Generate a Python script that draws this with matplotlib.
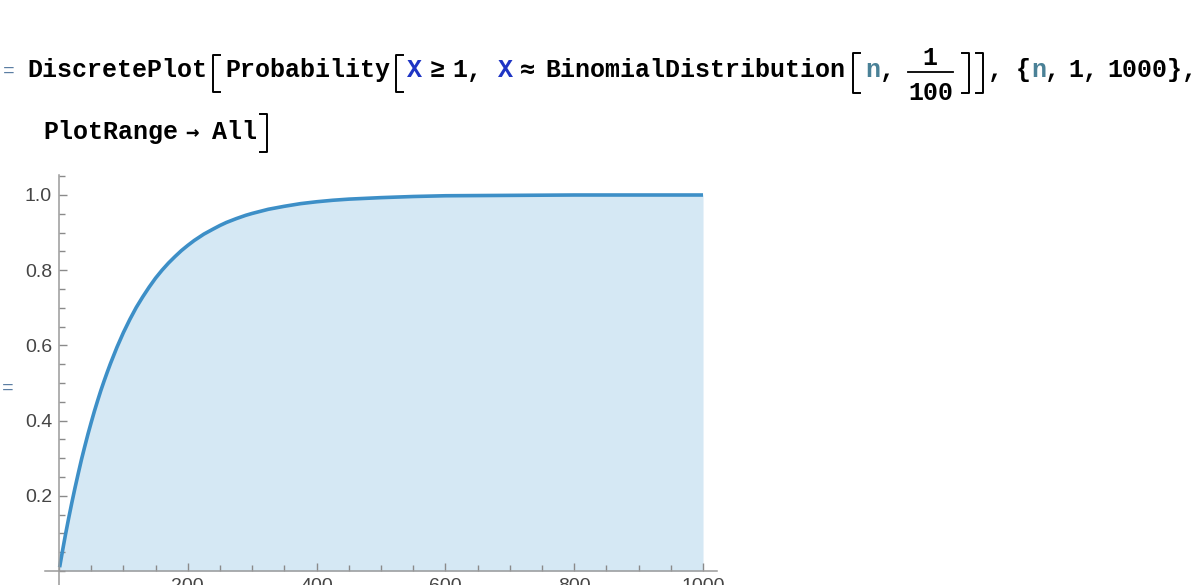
import numpy as np
import matplotlib.pyplot as plt
from matplotlib.lines import Line2D
from matplotlib.ticker import MultipleLocator

# values: P(X >= 1) for X ~ Binomial(n, 1/100)
n_vals = [1, 5, 10, 15, 20, 25, 30, 35, 40, 45, 50, 55, 60, 65, 70, 75, 80, 90,
          100, 110, 120, 130, 140, 150, 160, 170, 180, 190, 200, 210, 225, 240,
          250, 260, 275, 290, 300, 325, 350, 375, 400, 425, 450, 500, 550, 600,
          650, 700, 800, 900, 1000]
p_vals = [0.01, 0.049, 0.096, 0.140, 0.182, 0.222, 0.26, 0.297, 0.331, 0.364,
          0.395, 0.425, 0.453, 0.480, 0.505, 0.529, 0.552, 0.595,
          0.634, 0.669, 0.701, 0.729, 0.755, 0.779, 0.800, 0.819, 0.836, 0.852,
          0.866, 0.879, 0.896, 0.910, 0.919, 0.927, 0.937, 0.946, 0.951, 0.962,
          0.970, 0.977, 0.982, 0.986, 0.989, 0.993, 0.996, 0.998,
          0.9985, 0.999, 1.0, 1.0, 1.0]
x_major = [200, 400, 600, 800, 1000]
y_major = [0.2, 0.4, 0.6, 0.8, 1.0]

W, H = 1199, 585
fig = plt.figure(figsize=(W / 100, H / 100), dpi=100)

def fx(px):
    return px / W

def fy(py):
    return 1 - py / H

MONO = ['Liberation Mono', 'DejaVu Sans Mono']
BLUE = '#1f35c4'
TEAL = '#4a8197'
EQ = '#5b7ea3'
FS = 18

def code(px, py, s, color='black', size=FS, ha='left', family=MONO):
    fig.text(fx(px), fy(py), s, family=family, weight='bold', size=size,
             color=color, ha=ha, va='baseline')

def bracket(x0, x1, y0, y1, left=True):
    xs = x0 if left else x1
    xe = x1 if left else x0
    fig.add_artist(Line2D([fx(xe), fx(xs), fx(xs), fx(xe)],
                          [fy(y0), fy(y0), fy(y1), fy(y1)],
                          color='black', lw=1.4))

# input line 1
fig.text(fx(3), fy(76), '=', color=EQ, size=14, family=MONO, va='baseline')
code(27, 77, 'DiscretePlot')
bracket(213, 220, 55, 92)
code(225, 77, 'Probability')
bracket(396, 403, 55, 92)
code(407, 77, 'X', BLUE)
code(430, 77, '≥')
code(452, 77, '1,')
code(498, 77, 'X', BLUE)
code(520, 77, '≈', family=['DejaVu Sans Mono'])
code(545, 77, 'BinomialDistribution')
bracket(853, 860, 53, 93)
code(865, 77, 'n', TEAL)
code(880, 77, ',')
code(930, 65, '1', ha='center')
fig.add_artist(Line2D([fx(908), fx(953)], [fy(72), fy(72)], color='black', lw=1.3))
code(931, 100, '100', ha='center')
bracket(962, 969, 53, 93, left=False)
bracket(976, 983, 53, 93, left=False)
code(988, 77, ',')
code(1016, 77, '{')
code(1031, 77, 'n', TEAL)
code(1045, 77, ',')
code(1068, 77, '1,')
code(1107, 77, '1000},')

# input line 2
code(43, 139, 'PlotRange')
code(185, 139, '→', size=16, family=['DejaVu Sans Mono'])
code(212, 139, 'All')
bracket(260, 267, 114, 152, left=False)

# output label
fig.text(fx(2), fy(393), '=', color=EQ, size=14, family=MONO, va='baseline')

# plot area
ax = fig.add_axes([fx(45), 0, fx(717) - fx(45), fy(175)])
ax.fill_between(n_vals, 0, p_vals, color='#d5e8f4', lw=0)
ax.plot(n_vals, p_vals, color='#3d8fc7', lw=2.6, solid_capstyle='butt')

ax.set_xlim(-21.7, 1021.7)
ax.set_ylim(-(585 - 571) / 376, (571 - 175) / 376)

for side in ['top', 'right']:
    ax.spines[side].set_visible(False)
ax.spines['left'].set_position(('data', 0))
ax.spines['bottom'].set_position(('data', 0))
for side in ['left', 'bottom']:
    ax.spines[side].set_color('#9a9a9a')
    ax.spines[side].set_linewidth(1.1)

ax.set_xticks(x_major)
ax.set_yticks(y_major)
ax.set_yticklabels([f'{v:.1f}' for v in y_major])
ax.xaxis.set_minor_locator(MultipleLocator(50))
ax.yaxis.set_minor_locator(MultipleLocator(0.05))
ax.tick_params(which='both', direction='in', color='#8a8a8a', width=1,
               labelcolor='#454545', labelsize=14, pad=5)
ax.tick_params(which='major', length=6)
ax.tick_params(which='minor', length=4)
for lab in ax.get_xticklabels() + ax.get_yticklabels():
    lab.set_family('Liberation Sans')
ax.patch.set_alpha(0)

fig.savefig('out.png', dpi=100)
